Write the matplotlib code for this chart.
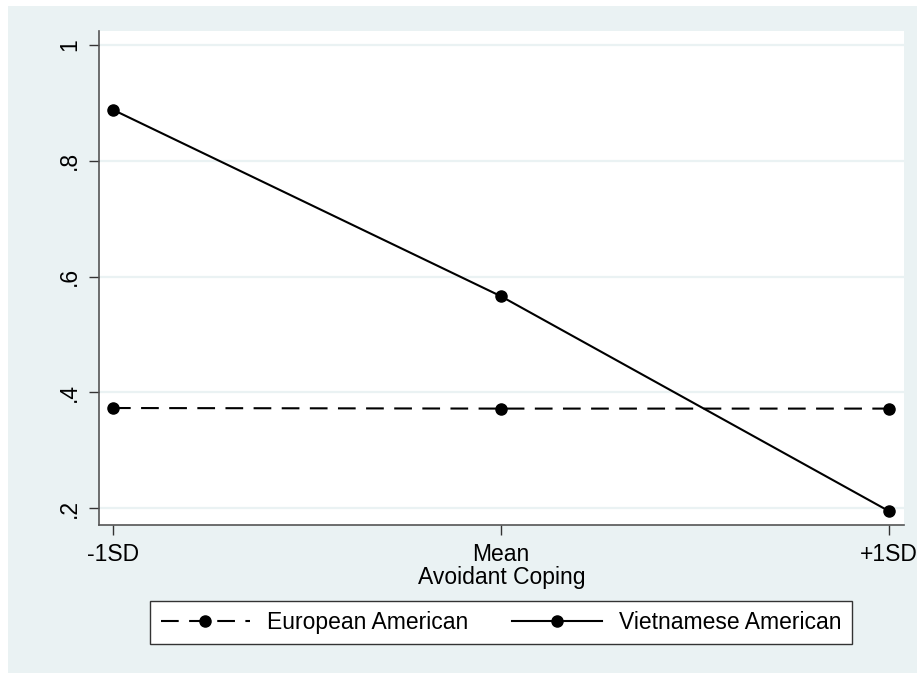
import matplotlib.pyplot as plt
from matplotlib.patches import Rectangle

plt.rcParams['font.family'] = ['Liberation Sans', 'DejaVu Sans']

# predicted values at three levels of avoidant coping
levels = ['-1SD', 'Mean', '+1SD']
european = [0.373, 0.372, 0.372]
vietnamese = [0.888, 0.566, 0.195]
yticks = [0.2, 0.4, 0.6, 0.8, 1.0]
ylabels = ['.2', '.4', '.6', '.8', '1']

bg = '#EAF2F3'
fig = plt.figure(figsize=(9.17, 6.73), dpi=100)
fig.patches.append(Rectangle((8 / 917, 0), 1, 1 - 6 / 673, transform=fig.transFigure,
                             facecolor=bg, edgecolor='none', zorder=-10))

ax = fig.add_axes([99 / 917, 148 / 673, 805 / 917, 494 / 673])
ax.set_facecolor('white')

x = range(len(levels))
ax.plot(x, european, color='black', lw=1.5, dashes=(8.5, 5), marker='o', ms=8,
        label='European American')
ax.plot(x, vietnamese, color='black', lw=1.5, marker='o', ms=8,
        label='Vietnamese American')

ax.set_xlim(-0.036, 2.039)
ax.set_ylim(0.171, 1.024)
ax.set_xticks(list(x))
ax.set_xticklabels(levels, fontsize=16.5)
ax.set_yticks(yticks)
ax.set_yticklabels(ylabels, fontsize=16.5, rotation=90, va='center')
ax.tick_params(axis='both', length=7, width=1, color='#333333', pad=6)
ax.grid(axis='y', color=bg, lw=1.6)
ax.set_axisbelow(True)

for side in ['top', 'right']:
    ax.spines[side].set_visible(False)
for side in ['left', 'bottom']:
    ax.spines[side].set_color('#555555')
    ax.spines[side].set_linewidth(1.2)

ax.set_xlabel('Avoidant Coping', fontsize=16.5, labelpad=0)

fig.legend(loc='center', bbox_to_anchor=(501 / 917, 1 - 622.5 / 673), ncol=2,
           fontsize=16.5, frameon=True, fancybox=False, edgecolor='#333333',
           framealpha=1, handlelength=3.9, handletextpad=0.75, columnspacing=1.9,
           borderpad=0.45, borderaxespad=0)

fig.savefig('out.png', dpi=100)
